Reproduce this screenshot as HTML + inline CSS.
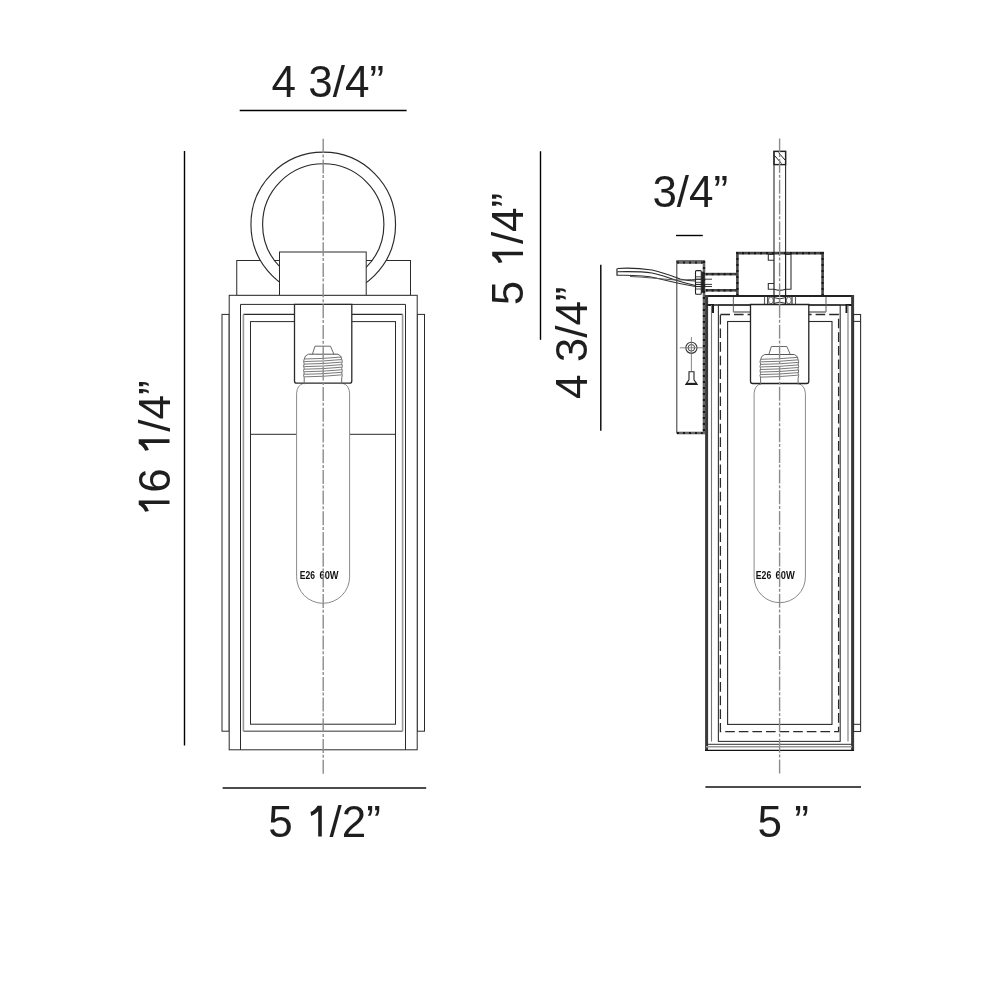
<!DOCTYPE html>
<html><head><meta charset="utf-8"><style>
html,body{margin:0;padding:0;background:#fff;}
svg{display:block;font-family:"Liberation Sans",sans-serif;filter:grayscale(1);}
</style></head><body>
<svg width="1000" height="1000" viewBox="0 0 1000 1000">
<rect width="1000" height="1000" fill="#fff"/>
<line x1="239.7" y1="110.5" x2="406.6" y2="110.5" stroke="#000" stroke-width="1.4" />
<g transform="translate(271.6,96.5)" fill="#1e1e1e"><text x="0.0" y="0" font-size="44" xml:space="preserve">4 3/4&#8221;</text></g>
<line x1="184.5" y1="150.9" x2="184.5" y2="745.4" stroke="#000" stroke-width="1.4" />
<g transform="translate(169.5,517.3) rotate(-90)" fill="#1e1e1e"><path transform="translate(0.0,0) scale(1.0)" d="M16.8 0 V-30.8 H12.5 C11 -27.8 8.6 -25.6 5.5 -24.4 L6.2 -20.6 C8.9 -21.6 11.2 -23 13.2 -25.2 V0 Z"/><text x="24.47" y="0" font-size="44" xml:space="preserve">6 </text><path transform="translate(61.17,0) scale(1.0)" d="M16.8 0 V-30.8 H12.5 C11 -27.8 8.6 -25.6 5.5 -24.4 L6.2 -20.6 C8.9 -21.6 11.2 -23 13.2 -25.2 V0 Z"/><text x="85.64" y="0" font-size="44" xml:space="preserve">/4&#8221;</text></g>
<line x1="222.6" y1="788" x2="426.2" y2="788" stroke="#111" stroke-width="1.5" />
<g transform="translate(268.3,836.5)" fill="#1e1e1e"><text x="0.0" y="0" font-size="44" xml:space="preserve">5 </text><path transform="translate(36.7,0) scale(1.0)" d="M16.8 0 V-30.8 H12.5 C11 -27.8 8.6 -25.6 5.5 -24.4 L6.2 -20.6 C8.9 -21.6 11.2 -23 13.2 -25.2 V0 Z"/><text x="61.17" y="0" font-size="44" xml:space="preserve">/2&#8221;</text></g>
<rect x="222" y="314.4" width="7.2" height="416.8" stroke="#2a2a2a" stroke-width="1" fill="none" />
<rect x="417.2" y="314.4" width="7.3" height="416.8" stroke="#2a2a2a" stroke-width="1" fill="none" />
<rect x="236.75" y="260.5" width="173.75" height="35.0" stroke="#2a2a2a" stroke-width="1" fill="#fff" />
<path fill-rule="evenodd" fill="#fff" stroke="#2a2a2a" stroke-width="1.15" d="M250.95 224.45 A72.3 72.3 0 1 0 395.55 224.45 A72.3 72.3 0 1 0 250.95 224.45 Z M262.6 224.45 A60.65 60.65 0 1 0 383.9 224.45 A60.65 60.65 0 1 0 262.6 224.45 Z"/>
<rect x="279.5" y="252" width="86.7" height="43.5" stroke="#2a2a2a" stroke-width="1" fill="#fff" />
<rect x="229.2" y="295.3" width="188.0" height="454.5" stroke="#2a2a2a" stroke-width="1" fill="#fff" />
<line x1="240.5" y1="304.4" x2="240.5" y2="749.8" stroke="#2a2a2a" stroke-width="1" />
<line x1="405.5" y1="304.4" x2="405.5" y2="749.8" stroke="#2a2a2a" stroke-width="1" />
<line x1="240.5" y1="304.4" x2="405.5" y2="304.4" stroke="#2a2a2a" stroke-width="1" />
<line x1="243.4" y1="314.4" x2="402.6" y2="314.4" stroke="#2a2a2a" stroke-width="1.1" />
<line x1="243.4" y1="731.2" x2="402.6" y2="731.2" stroke="#777" stroke-width="1.4" />
<line x1="243.4" y1="314.4" x2="243.4" y2="731.2" stroke="#999" stroke-width="1.6" />
<line x1="402.6" y1="314.4" x2="402.6" y2="731.2" stroke="#999" stroke-width="1.6" />
<rect x="250.5" y="321.6" width="145.0" height="402.6" stroke="#2a2a2a" stroke-width="1" fill="none" />
<line x1="250.7" y1="434.3" x2="395.7" y2="434.3" stroke="#2a2a2a" stroke-width="1" />
<path d="M303.6 383.2 Q297.1 385.2 296.6 393.2 V576.8 A26.5 26.5 0 0 0 349.6 576.8 V393.2 Q349.1 385.2 342.6 383.2 Z" fill="#fff" stroke="none"/><path d="M303.6 383.2 Q297.1 385.2 296.6 393.2 V576.8 A26.5 26.5 0 0 0 349.6 576.8 V393.2 Q349.1 385.2 342.6 383.2" stroke="#8a8a8a" stroke-width="1" fill="none"/>
<path d="M294.5 304.4 H351.8 V381 Q351.8 383.2 349.6 383.2 H296.7 Q294.5 383.2 294.5 381 Z" stroke="#2a2a2a" stroke-width="1.3" fill="#fff"/>
<path d="M314.95 346.2 H330.45 L333.95 354.2 M314.95 346.2 L312.45 354.2" stroke="#6a6a6a" stroke-width="1" fill="none"/><path d="M308.45 354.2 H337.95" stroke="#555" stroke-width="1" fill="none"/><path d="M308.45 354.2 Q304.7 355.2 304.2 359.2 Q303.0 361.5 304.2 363.8 Q303.0 366.1 304.2 368.40000000000003 Q303.0 370.7 304.2 373.0 Q303.0 375.3 304.2 377.6 V384.2 M337.95 354.2 Q341.2 355.2 341.7 359.2 Q342.9 361.5 341.7 363.8 Q342.9 366.1 341.7 368.40000000000003 Q342.9 370.7 341.7 373.0 Q342.9 375.3 341.7 377.6 V384.2" stroke="#6a6a6a" stroke-width="1" fill="none"/><path d="M304.2 359.0 Q323.2 358.8 341.7 357.0" stroke="#6a6a6a" stroke-width="0.9" fill="none"/><path d="M304.2 361.55 Q323.2 361.35 341.7 359.55" stroke="#6a6a6a" stroke-width="0.9" fill="none"/><path d="M304.2 364.1 Q323.2 363.90000000000003 341.7 362.1" stroke="#6a6a6a" stroke-width="0.9" fill="none"/><path d="M304.2 366.65 Q323.2 366.45 341.7 364.65" stroke="#6a6a6a" stroke-width="0.9" fill="none"/><path d="M304.2 369.2 Q323.2 369.0 341.7 367.2" stroke="#6a6a6a" stroke-width="0.9" fill="none"/><path d="M304.2 371.75 Q323.2 371.55 341.7 369.75" stroke="#6a6a6a" stroke-width="0.9" fill="none"/><path d="M304.2 374.3 Q323.2 374.1 341.7 372.3" stroke="#6a6a6a" stroke-width="0.9" fill="none"/><path d="M304.2 376.85 Q323.2 376.65000000000003 341.7 374.85" stroke="#6a6a6a" stroke-width="0.9" fill="none"/>
<text x="299.8" y="578.8" font-size="10.8" font-weight="bold" fill="#111" textLength="15.2" lengthAdjust="spacingAndGlyphs">E26</text>
<text x="319.6" y="578.8" font-size="10.8" font-weight="bold" fill="#111" textLength="19" lengthAdjust="spacingAndGlyphs">60W</text>
<line x1="323.2" y1="137" x2="323.2" y2="775" stroke="#8c8c8c" stroke-width="1.4" stroke-dasharray="14 1.7 3 2" stroke-dashoffset="19"/>
<line x1="540.5" y1="151.25" x2="540.5" y2="339.8" stroke="#000" stroke-width="1.4" />
<g transform="translate(523,305.26) rotate(-90)" fill="#1e1e1e"><text x="0.0" y="0" font-size="44" xml:space="preserve">5 </text><path transform="translate(36.7,0) scale(1.0)" d="M16.8 0 V-30.8 H12.5 C11 -27.8 8.6 -25.6 5.5 -24.4 L6.2 -20.6 C8.9 -21.6 11.2 -23 13.2 -25.2 V0 Z"/><text x="61.17" y="0" font-size="44" xml:space="preserve">/4&#8221;</text></g>
<line x1="600.8" y1="264.8" x2="600.8" y2="430.8" stroke="#000" stroke-width="1.4" />
<g transform="translate(587,399.0) rotate(-90)" fill="#1e1e1e"><text x="0.0" y="0" font-size="44" xml:space="preserve">4 3/4&#8221;</text></g>
<line x1="676" y1="235.5" x2="702.8" y2="235.5" stroke="#000" stroke-width="1.4" />
<g transform="translate(652.4,206.5)" fill="#1e1e1e"><text x="0.0" y="0" font-size="44" xml:space="preserve">3/4&#8221;</text></g>
<line x1="705.4" y1="787" x2="861" y2="787" stroke="#111" stroke-width="1.5" />
<g transform="translate(757.6,836.8)" fill="#1e1e1e"><text x="0.0" y="0" font-size="44" xml:space="preserve">5 &#8221;</text></g>
<line x1="676.8" y1="261" x2="676.8" y2="433.5" stroke="#444" stroke-width="1.1" />
<line x1="676.3" y1="261" x2="705" y2="261" stroke="#222" stroke-width="1.3" />
<line x1="677" y1="262.5" x2="705" y2="262.5" stroke="#666" stroke-width="2.6"/>
<line x1="677" y1="262.5" x2="705" y2="262.5" stroke="#1a1a1a" stroke-width="2.2" stroke-dasharray="2 4"/>
<line x1="677" y1="433" x2="705" y2="433" stroke="#666" stroke-width="2.6"/>
<line x1="677" y1="433" x2="705" y2="433" stroke="#1a1a1a" stroke-width="2.2" stroke-dasharray="2 4"/>
<line x1="704" y1="261" x2="704" y2="434" stroke="#666" stroke-width="2.6"/>
<line x1="704" y1="261" x2="704" y2="434" stroke="#1a1a1a" stroke-width="2.2" stroke-dasharray="2 4"/>
<path d="M617.5 268.5 C632 267.5 645 269 652 270 C662 272 672 276 680 279 C686 280.5 690 281 695.5 281" stroke="#2a2a2a" stroke-width="1.15" fill="none"/>
<path d="M617.5 271.8 C632 271.5 645 272 652 273 C664 275 674 281 695.5 285.5" stroke="#2a2a2a" stroke-width="1.15" fill="none"/>
<path d="M616.8 275.3 C632 275 648 276 656 278 C668 281 680 284 695.5 286.5" stroke="#333" stroke-width="1.1" fill="none"/>
<path d="M630 276.5 C645 277 660 279 676 280 C684 280 690 279.5 695.5 279.5" stroke="#555" stroke-width="1" fill="none"/>
<line x1="617" y1="268.5" x2="617" y2="275.5" stroke="#333" stroke-width="1.3" />
<rect x="695.5" y="270.6" width="5.8" height="23.6" rx="1" stroke="#222" stroke-width="1.1" fill="#fff"/>
<line x1="695.5" y1="276.8" x2="701.3" y2="276.8" stroke="#333" stroke-width="0.9" />
<line x1="695.5" y1="279.3" x2="701.3" y2="279.3" stroke="#333" stroke-width="0.9" />
<line x1="695.5" y1="282.3" x2="701.3" y2="282.3" stroke="#333" stroke-width="0.9" />
<line x1="695.5" y1="284.6" x2="701.3" y2="284.6" stroke="#333" stroke-width="0.9" />
<line x1="695.5" y1="286.6" x2="701.3" y2="286.6" stroke="#333" stroke-width="0.9" />
<line x1="695.5" y1="289.0" x2="701.3" y2="289.0" stroke="#333" stroke-width="0.9" />
<rect x="701.6" y="271.7" width="3.0" height="21.0" stroke="#2a2a2a" stroke-width="0" fill="#222" stroke="none"/>
<line x1="695" y1="279.2" x2="712" y2="279.2" stroke="#222" stroke-width="0.9" />
<line x1="695" y1="284.4" x2="712" y2="284.4" stroke="#222" stroke-width="0.9" />
<line x1="695" y1="286.5" x2="712" y2="286.5" stroke="#222" stroke-width="0.9" />
<line x1="705.6" y1="274.1" x2="737" y2="274.1" stroke="#454545" stroke-width="2.6"/>
<line x1="705.6" y1="274.1" x2="737" y2="274.1" stroke="#1a1a1a" stroke-width="2.2" stroke-dasharray="2 4"/>
<line x1="705.6" y1="290.3" x2="737" y2="290.3" stroke="#454545" stroke-width="2.6"/>
<line x1="705.6" y1="290.3" x2="737" y2="290.3" stroke="#1a1a1a" stroke-width="2.2" stroke-dasharray="2 4"/>
<circle cx="691.4" cy="347.8" r="5.6" stroke="#333" stroke-width="1.1" fill="none"/>
<circle cx="691.4" cy="347.8" r="3.3" stroke="#444" stroke-width="1" fill="none"/>
<line x1="679.8" y1="347.8" x2="703" y2="347.8" stroke="#777" stroke-width="0.9" />
<line x1="691.4" y1="337" x2="691.4" y2="371" stroke="#777" stroke-width="0.9" />
<path d="M689 371.8 H694 V379.8 L697.2 384.4 H685.8 L689 379.8 Z" stroke="#222" stroke-width="1.1" fill="#fff"/>
<path d="M686.2 383.6 H696.8" stroke="#222" stroke-width="1.6"/>
<rect x="706" y="296" width="146.6" height="454.4" fill="#fff" stroke="none"/>
<rect x="774" y="151.4" width="11.6" height="144.1" stroke="#2a2a2a" stroke-width="1.1" fill="none" />
<rect x="774" y="151.4" width="11.6" height="13.2" stroke="#222" stroke-width="1.4" fill="none" />
<path d="M775 156 L781.5 163.5 M778.5 152.5 L785 160" stroke="#222" stroke-width="1"/>
<rect x="737.4" y="253.1" width="85.4" height="42.4" fill="#fff" stroke="none"/>
<line x1="736" y1="253.1" x2="824" y2="253.1" stroke="#454545" stroke-width="2.6"/>
<line x1="736" y1="253.1" x2="824" y2="253.1" stroke="#1a1a1a" stroke-width="2.2" stroke-dasharray="2 4"/>
<line x1="737.4" y1="252" x2="737.4" y2="296" stroke="#454545" stroke-width="2.6"/>
<line x1="737.4" y1="252" x2="737.4" y2="296" stroke="#1a1a1a" stroke-width="2.2" stroke-dasharray="2 4"/>
<line x1="822.6" y1="252" x2="822.6" y2="296" stroke="#454545" stroke-width="2.6"/>
<line x1="822.6" y1="252" x2="822.6" y2="296" stroke="#1a1a1a" stroke-width="2.2" stroke-dasharray="2 4"/>
<path d="M774 254.5 H768.3 V260.2 H774 M774 283.5 H768.3 V289.3 H774 M774 289.3 Q780 291.5 785.6 289.3 H791 V254.5 H785.6" stroke="#333" stroke-width="1.1" fill="none"/>
<line x1="704.8" y1="296" x2="854" y2="296" stroke="#222" stroke-width="2" />
<line x1="706.6" y1="295" x2="706.6" y2="751" stroke="#3a3a3a" stroke-width="3" />
<line x1="852.6" y1="295" x2="852.6" y2="751" stroke="#3a3a3a" stroke-width="3" />
<line x1="705" y1="750.4" x2="854" y2="750.4" stroke="#111" stroke-width="1.4" />
<line x1="707" y1="305" x2="852" y2="305" stroke="#1a1a1a" stroke-width="1.4" />
<line x1="733.4" y1="297" x2="733.4" y2="312" stroke="#777" stroke-width="1.2" />
<line x1="826" y1="297" x2="826" y2="312" stroke="#777" stroke-width="1.2" />
<line x1="733.4" y1="312" x2="750.5" y2="312" stroke="#777" stroke-width="1.5" />
<line x1="808.8" y1="312" x2="826" y2="312" stroke="#777" stroke-width="1.5" />
<line x1="764.5" y1="296.5" x2="764.5" y2="305" stroke="#555" stroke-width="1.1" />
<line x1="767.75" y1="296.5" x2="767.75" y2="305" stroke="#222" stroke-width="1.1" />
<line x1="792" y1="296.5" x2="792" y2="305" stroke="#222" stroke-width="1.1" />
<line x1="795.5" y1="296.5" x2="795.5" y2="305" stroke="#555" stroke-width="1.1" />
<ellipse cx="770.9" cy="300.4" rx="2.4" ry="3.4" stroke="#555" stroke-width="0.9" fill="none"/>
<ellipse cx="788.8" cy="300.4" rx="2.4" ry="3.4" stroke="#555" stroke-width="0.9" fill="none"/>
<path d="M774 297.6 Q779.8 300.2 785.6 297.6 M774 303.4 Q779.8 300.8 785.6 303.4" stroke="#333" stroke-width="1" fill="none"/>
<line x1="774" y1="252.5" x2="774" y2="305" stroke="#222" stroke-width="1.2" />
<line x1="785.6" y1="252.5" x2="785.6" y2="305" stroke="#222" stroke-width="1.2" />
<path d="M708.3 305 H713 V313" stroke="#1a1a1a" stroke-width="2" fill="none"/>
<path d="M851 305 H846.5 V313" stroke="#1a1a1a" stroke-width="2" fill="none"/>
<line x1="711.5" y1="305" x2="711.5" y2="741.4" stroke="#777" stroke-width="1.1" />
<line x1="848" y1="305" x2="848" y2="741.4" stroke="#777" stroke-width="1.1" />
<rect x="718.4" y="305" width="121.8" height="436.4" stroke="#333" stroke-width="1.1" fill="none" />
<rect x="720.4" y="314.5" width="118.2" height="417.2" stroke="#2a2a2a" stroke-width="1.3" fill="none" stroke-dasharray="9.6 4"/>
<rect x="727.6" y="321.5" width="104.4" height="402.9" stroke="#2a2a2a" stroke-width="1.1" fill="none" />
<rect x="853.5" y="314.5" width="7.1" height="417.0" stroke="#333" stroke-width="1.1" fill="none" />
<line x1="853" y1="321.4" x2="860.6" y2="321.4" stroke="#2a2a2a" stroke-width="1" />
<line x1="853" y1="724.3" x2="860.6" y2="724.3" stroke="#2a2a2a" stroke-width="1" />
<line x1="706" y1="744.3" x2="852" y2="744.3" stroke="#333" stroke-width="1" />
<line x1="706" y1="746.8" x2="852" y2="746.8" stroke="#999" stroke-width="1.5" />
<path d="M761.1 383.5 Q754.6 385.5 754.1 393.5 V577 A25.649999999999977 25.649999999999977 0 0 0 805.4 577 V393.5 Q804.9 385.5 798.4 383.5 Z" fill="#fff" stroke="none"/><path d="M761.1 383.5 Q754.6 385.5 754.1 393.5 V577 A25.649999999999977 25.649999999999977 0 0 0 805.4 577 V393.5 Q804.9 385.5 798.4 383.5" stroke="#8a8a8a" stroke-width="1" fill="none"/>
<path d="M750.5 304.5 H808.8 V381.3 Q808.8 383.5 806.6 383.5 H752.7 Q750.5 383.5 750.5 381.3 Z" stroke="#222" stroke-width="1.3" fill="#fff"/>
<path d="M771.35 346.5 H786.85 L790.35 354.5 M771.35 346.5 L768.85 354.5" stroke="#6a6a6a" stroke-width="1" fill="none"/><path d="M764.85 354.5 H794.35" stroke="#555" stroke-width="1" fill="none"/><path d="M764.85 354.5 Q761.1 355.5 760.6 359.5 Q759.4 361.8 760.6 364.1 Q759.4 366.40000000000003 760.6 368.70000000000005 Q759.4 371.0 760.6 373.3 Q759.4 375.6 760.6 377.90000000000003 V384.5 M794.35 354.5 Q797.6 355.5 798.1 359.5 Q799.3000000000001 361.8 798.1 364.1 Q799.3000000000001 366.40000000000003 798.1 368.70000000000005 Q799.3000000000001 371.0 798.1 373.3 Q799.3000000000001 375.6 798.1 377.90000000000003 V384.5" stroke="#6a6a6a" stroke-width="1" fill="none"/><path d="M760.6 359.3 Q779.6 359.1 798.1 357.3" stroke="#6a6a6a" stroke-width="0.9" fill="none"/><path d="M760.6 361.85 Q779.6 361.65000000000003 798.1 359.85" stroke="#6a6a6a" stroke-width="0.9" fill="none"/><path d="M760.6 364.40000000000003 Q779.6 364.20000000000005 798.1 362.40000000000003" stroke="#6a6a6a" stroke-width="0.9" fill="none"/><path d="M760.6 366.95 Q779.6 366.75 798.1 364.95" stroke="#6a6a6a" stroke-width="0.9" fill="none"/><path d="M760.6 369.5 Q779.6 369.3 798.1 367.5" stroke="#6a6a6a" stroke-width="0.9" fill="none"/><path d="M760.6 372.05 Q779.6 371.85 798.1 370.05" stroke="#6a6a6a" stroke-width="0.9" fill="none"/><path d="M760.6 374.6 Q779.6 374.40000000000003 798.1 372.6" stroke="#6a6a6a" stroke-width="0.9" fill="none"/><path d="M760.6 377.15000000000003 Q779.6 376.95000000000005 798.1 375.15000000000003" stroke="#6a6a6a" stroke-width="0.9" fill="none"/>
<text x="755.8" y="578.7" font-size="10.8" font-weight="bold" fill="#111" textLength="15.5" lengthAdjust="spacingAndGlyphs">E26</text>
<text x="775.6" y="578.7" font-size="10.8" font-weight="bold" fill="#111" textLength="19.2" lengthAdjust="spacingAndGlyphs">60W</text>
<line x1="779.6" y1="137.8" x2="779.6" y2="775" stroke="#8c8c8c" stroke-width="1.4" stroke-dasharray="14 1.7 3 2" stroke-dashoffset="20.1"/>
</svg></body></html>
